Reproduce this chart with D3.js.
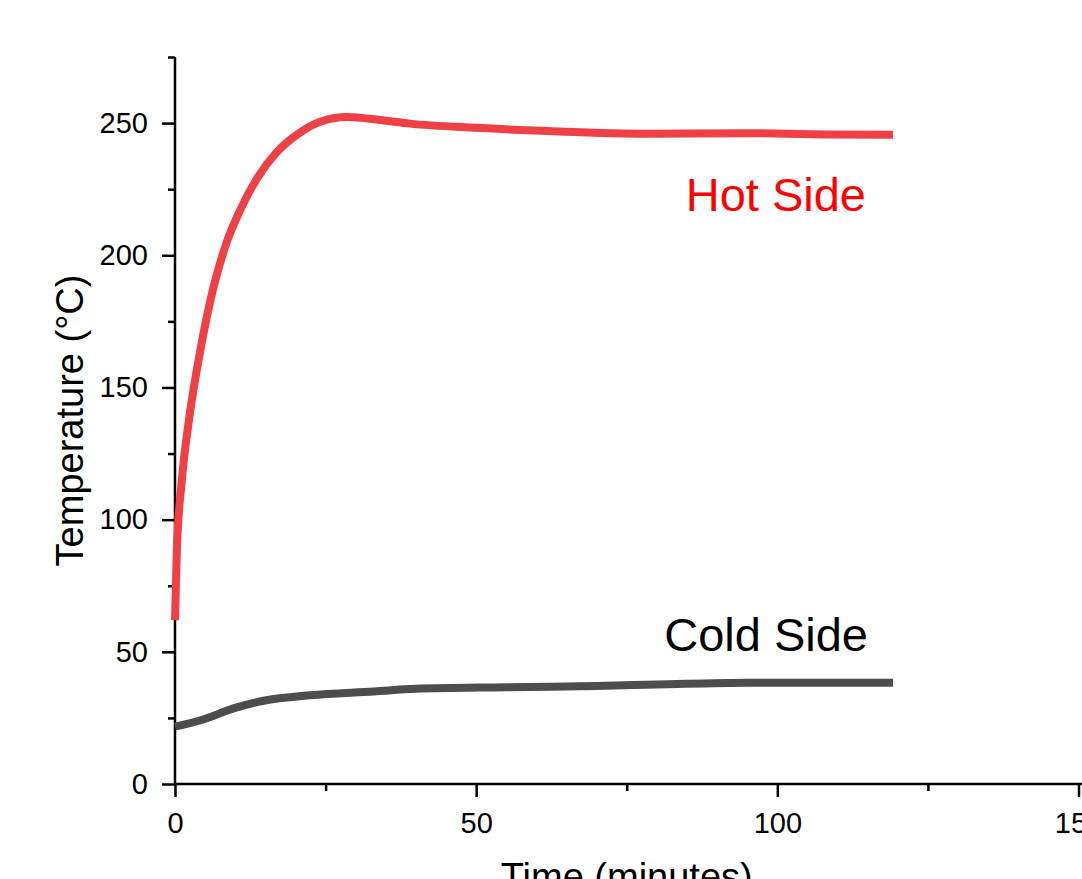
<!DOCTYPE html>
<html>
<head>
<meta charset="utf-8">
<script src="https://cdn.jsdelivr.net/npm/d3@7"></script>
<style>
  body { margin: 0; background: #fff; }
  svg { display: block; font-family: "Liberation Sans", Arial, sans-serif; }
</style>
</head>
<body>
<div id="chart"></div>
<script>
const W = 1082, H = 879;
const margin = {top: 57, right: 3.5, bottom: 95, left: 175};
const width = W - margin.left - margin.right,
      height = H - margin.top - margin.bottom;

// time in minutes
const hotTime = [0, 0.3, 1.1, 2.4, 4.2, 6.4, 8.6, 10.8, 13.6, 16.9, 20.8, 24.1, 28.5, 34, 39, 50, 62, 79, 94, 108, 119.2];
const hotTemp = [62, 88, 114, 139, 164, 188, 205, 217, 229, 239, 246.5, 250.5, 252.3, 251.2, 249.8, 248.2, 247, 246, 246.2, 245.7, 245.6];

const coldTime = [0, 4.7, 9.7, 14.7, 22.4, 33, 40, 55, 70, 80, 95, 119.2];
const coldTemp = [21.7, 24.4, 28.6, 31.5, 33.6, 35, 36, 36.6, 37.1, 37.6, 38.3, 38.3];

const xMajor = [0, 50, 100, 150];
const xMinor = [25, 75, 125];
const yMajor = [0, 50, 100, 150, 200, 250];
const yMinor = [25, 75, 125, 175, 225, 275];

const svg = d3.select("#chart")
  .append("svg")
  .attr("width", W)
  .attr("height", H)
  .append("g")
  .attr("transform", `translate(${margin.left},${margin.top})`);

const x = d3.scaleLinear().domain([0, 150]).range([0, width]);
const y = d3.scaleLinear().domain([0, 275]).range([height, 0]);

// minor ticks
svg.append("g")
  .attr("transform", `translate(0,${height})`)
  .call(d3.axisBottom(x).tickValues(xMinor).tickSize(7).tickSizeOuter(0).tickFormat(""))
  .call(g => g.select(".domain").remove());
svg.append("g")
  .call(d3.axisLeft(y).tickValues(yMinor).tickSize(7).tickSizeOuter(0).tickFormat(""))
  .call(g => g.select(".domain").remove());

// major ticks
svg.append("g")
  .attr("transform", `translate(0,${height})`)
  .call(d3.axisBottom(x).tickValues(xMajor).tickSize(13).tickPadding(15).tickSizeOuter(0))
  .call(g => g.select(".domain").remove());
svg.append("g")
  .call(d3.axisLeft(y).tickValues(yMajor).tickSize(13).tickPadding(14).tickSizeOuter(0))
  .call(g => g.select(".domain").remove());

svg.selectAll(".tick line").attr("stroke", "#000").attr("stroke-width", 2.5);
svg.selectAll(".tick text").attr("fill", "#000").style("font-size", "29px")
  .style("font-family", "\"Liberation Sans\", Arial, sans-serif");

// axis lines
svg.append("line")
  .attr("x1", 0).attr("x2", width + 4)
  .attr("y1", height).attr("y2", height)
  .attr("stroke", "#000").attr("stroke-width", 2.5);
svg.append("line")
  .attr("x1", 0).attr("x2", 0)
  .attr("y1", 0).attr("y2", height)
  .attr("stroke", "#000").attr("stroke-width", 2.5);

// lines
const hot = hotTime.map((t, i) => ({t: t, v: hotTemp[i]}));
const cold = coldTime.map((t, i) => ({t: t, v: coldTemp[i]}));

const line = d3.line()
  .x(d => x(d.t))
  .y(d => y(d.v))
  .curve(d3.curveMonotoneX);

svg.append("path")
  .datum(cold)
  .attr("fill", "none")
  .attr("stroke", "#4d4d4d")
  .attr("stroke-width", 8)
  .attr("stroke-linejoin", "round")
  .attr("d", line);

svg.append("path")
  .datum(hot)
  .attr("fill", "none")
  .attr("stroke", "#ef4145")
  .attr("stroke-width", 8)
  .attr("stroke-linejoin", "round")
  .attr("d", line);

// labels on the lines
svg.append("text")
  .attr("x", 866 - margin.left)
  .attr("y", 211 - margin.top)
  .attr("text-anchor", "end")
  .attr("fill", "#ff0000")
  .style("font-size", "47px")
  .text("Hot Side");

svg.append("text")
  .attr("x", 868 - margin.left)
  .attr("y", 651 - margin.top)
  .attr("text-anchor", "end")
  .attr("fill", "#000")
  .style("font-size", "47px")
  .text("Cold Side");

// axis titles
svg.append("text")
  .attr("transform", `translate(${83 - margin.left},${height / 2}) rotate(-90)`)
  .attr("text-anchor", "middle")
  .attr("fill", "#000")
  .style("font-size", "38px")
  .text("Temperature (°C)");

svg.append("text")
  .attr("x", (1078.5 - margin.left) / 2)
  .attr("y", 890 - margin.top)
  .attr("text-anchor", "middle")
  .attr("fill", "#000")
  .style("font-size", "38px")
  .text("Time (minutes)");
</script>
</body>
</html>
